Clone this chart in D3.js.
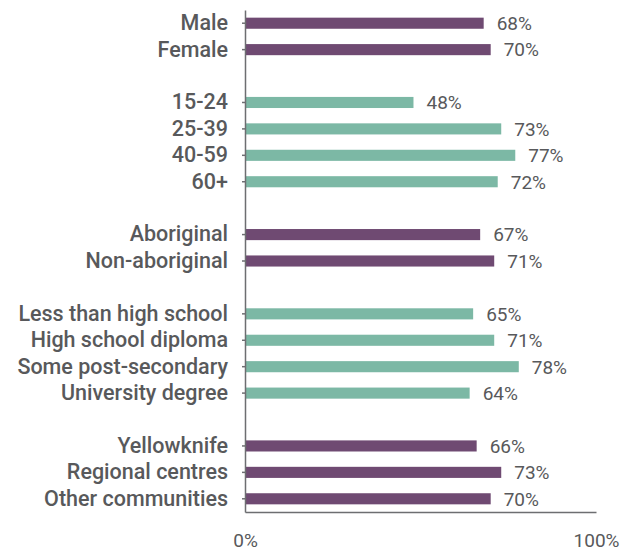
<!DOCTYPE html>
<html>
<head>
<meta charset="utf-8">
<script src="https://cdn.jsdelivr.net/npm/d3@7"></script>
<style>
  body { margin: 0; background: #fff; }
  svg text { font-family: Roboto, "Noto Sans", sans-serif; fill: #58595b; }
</style>
</head>
<body>
<div id="chart"></div>
<script>
// survey results, one array per group (blank rows sit between groups)
const sexLabels = ["Male", "Female"];
const sexValues = [68, 70];
const ageLabels = ["15-24", "25-39", "40-59", "60+"];
const ageValues = [48, 73, 77, 72];
const aboriginalLabels = ["Aboriginal", "Non-aboriginal"];
const aboriginalValues = [67, 71];
const educationLabels = ["Less than high school", "High school diploma", "Some post-secondary", "University degree"];
const educationValues = [65, 71, 78, 64];
const communityLabels = ["Yellowknife", "Regional centres", "Other communities"];
const communityValues = [66, 73, 70];
const xTicks = [0, 100];

const purple = "#6f4a72";
const teal = "#7cb8a5";

const groups = [
    { labels: sexLabels, values: sexValues, color: purple },
    { labels: ageLabels, values: ageValues, color: teal },
    { labels: aboriginalLabels, values: aboriginalValues, color: purple },
    { labels: educationLabels, values: educationValues, color: teal },
    { labels: communityLabels, values: communityValues, color: purple }
];

// flatten into rows, with a spacer key between groups
let rows = [];
let domain = [];
groups.forEach(function (g, gi) {
    if (gi > 0) domain.push("gap" + gi);
    g.labels.forEach(function (l, i) {
        rows.push({ label: l, value: g.values[i], color: g.color });
        domain.push(l);
    });
});

const width = 623, height = 552;
const x0 = 245, x1 = 596;

const svg = d3.select("#chart")
    .append("svg")
    .attr("width", width)
    .attr("height", height);

const xScale = d3.scaleLinear()
    .domain([0, 100])
    .range([x0, x1]);

const yScale = d3.scaleBand()
    .domain(domain)
    .range([10, 512])
    .paddingInner(0.58)
    .paddingOuter(0.29);

// bars
svg.selectAll("rect.bar")
    .data(rows)
    .enter()
    .append("rect")
    .attr("class", "bar")
    .attr("x", xScale(0))
    .attr("y", function (d) { return yScale(d.label); })
    .attr("width", function (d) { return xScale(d.value) - xScale(0); })
    .attr("height", yScale.bandwidth())
    .attr("fill", function (d) { return d.color; });

// value labels
svg.selectAll("text.value")
    .data(rows)
    .enter()
    .append("text")
    .attr("class", "value")
    .attr("x", function (d) { return xScale(d.value) + 13; })
    .attr("y", function (d) { return yScale(d.label) + yScale.bandwidth() / 2; })
    .attr("dy", "0.36em")
    .style("font-size", "19px")
    .text(function (d) { return d.value + "%"; });

// y axis, ticks only on real categories
const yAxis = svg.append("g")
    .attr("transform", "translate(" + x0 + ",0)")
    .call(d3.axisLeft(yScale)
        .tickValues(rows.map(function (d) { return d.label; }))
        .tickSize(3)
        .tickSizeOuter(0)
        .tickPadding(14));
yAxis.selectAll("path, line").attr("stroke", "#6d6e71").attr("stroke-width", 1.5);
yAxis.selectAll("text")
    .style("font-size", "21.5px")
    .style("font-weight", "500")
    .style("fill", "#58595b");

// x axis baseline and end labels
const xAxis = svg.append("g")
    .attr("transform", "translate(0,512)")
    .call(d3.axisBottom(xScale)
        .tickValues(xTicks)
        .tickSize(0)
        .tickPadding(22)
        .tickFormat(function (d) { return d + "%"; }));
xAxis.select("path").attr("stroke", "#6d6e71").attr("stroke-width", 1.5);
xAxis.selectAll("text")
    .style("font-size", "19px")
    .style("fill", "#58595b");
</script>
</body>
</html>
